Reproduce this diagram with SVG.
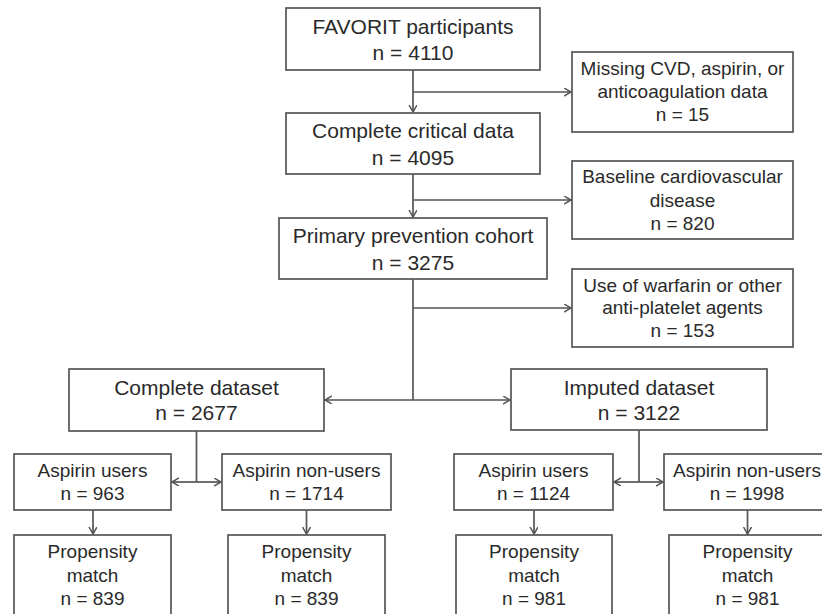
<svg xmlns="http://www.w3.org/2000/svg" width="822" height="614" viewBox="0 0 822 614">
<defs>
<style>
.box{fill:#fff;stroke:#555;stroke-width:1.7}
.t{font-family:"Liberation Sans",Arial,sans-serif;fill:#2a2a2a;text-anchor:middle}
.big{font-size:21px}
.sm{font-size:19px}
.c{fill:none;stroke:#555;stroke-width:1.7}
</style>
<marker id="ah" markerUnits="userSpaceOnUse" markerWidth="10" markerHeight="10" refX="7" refY="4" orient="auto">
<path d="M0,0 L7,4 L0,8" fill="none" stroke="#555" stroke-width="1.5"/>
</marker>
</defs>
<rect width="822" height="614" fill="#fff"/>
<g id="connectors">
<path class="c" d="M413,70 V112" marker-end="url(#ah)"/>
<path class="c" d="M413,92 H571" marker-end="url(#ah)"/>
<path class="c" d="M413,174 V217" marker-end="url(#ah)"/>
<path class="c" d="M413,200 H571" marker-end="url(#ah)"/>
<path class="c" d="M413,279 V400"/>
<path class="c" d="M413,308 H571" marker-end="url(#ah)"/>
<path class="c" d="M413,400 H325" marker-end="url(#ah)"/>
<path class="c" d="M413,400 H510" marker-end="url(#ah)"/>
<path class="c" d="M196.5,431 V482"/>
<path class="c" d="M196.5,482 H172" marker-end="url(#ah)"/>
<path class="c" d="M196.5,482 H221" marker-end="url(#ah)"/>
<path class="c" d="M639,430 V482"/>
<path class="c" d="M639,482 H614" marker-end="url(#ah)"/>
<path class="c" d="M639,482 H663" marker-end="url(#ah)"/>
<path class="c" d="M93,510 V534" marker-end="url(#ah)"/>
<path class="c" d="M306.5,510 V534" marker-end="url(#ah)"/>
<path class="c" d="M534,510 V534" marker-end="url(#ah)"/>
<path class="c" d="M747.5,510 V534" marker-end="url(#ah)"/>
</g>
<g id="favorit">
<rect class="box" x="286" y="8" width="254" height="62"/>
<text class="t big" x="413" y="34">FAVORIT participants</text>
<text class="t big" x="413" y="60">n = 4110</text>
</g>
<g id="missing">
<rect class="box" x="572" y="52" width="221" height="80"/>
<text class="t sm" x="682.5" y="75">Missing CVD, aspirin, or</text>
<text class="t sm" x="682.5" y="98">anticoagulation data</text>
<text class="t sm" x="682.5" y="121">n = 15</text>
</g>
<g id="complete-critical">
<rect class="box" x="286" y="113" width="254" height="61"/>
<text class="t big" x="413" y="138">Complete critical data</text>
<text class="t big" x="413" y="165">n = 4095</text>
</g>
<g id="baseline-cvd">
<rect class="box" x="572" y="161" width="221" height="78"/>
<text class="t sm" x="682.5" y="183">Baseline cardiovascular</text>
<text class="t sm" x="682.5" y="206.5">disease</text>
<text class="t sm" x="682.5" y="229.5">n = 820</text>
</g>
<g id="primary">
<rect class="box" x="279" y="218" width="268" height="61"/>
<text class="t big" x="413" y="243">Primary prevention cohort</text>
<text class="t big" x="413" y="270">n = 3275</text>
</g>
<g id="warfarin">
<rect class="box" x="572" y="269" width="221" height="78"/>
<text class="t sm" x="682.5" y="291.5">Use of warfarin or other</text>
<text class="t sm" x="682.5" y="313.5">anti-platelet agents</text>
<text class="t sm" x="682.5" y="336.5">n = 153</text>
</g>
<g id="complete-dataset">
<rect class="box" x="69" y="369" width="255" height="62"/>
<text class="t big" x="196.5" y="395">Complete dataset</text>
<text class="t big" x="196.5" y="420">n = 2677</text>
</g>
<g id="imputed-dataset">
<rect class="box" x="511" y="369" width="256" height="61"/>
<text class="t big" x="639" y="395">Imputed dataset</text>
<text class="t big" x="639" y="420">n = 3122</text>
</g>
<g id="users-complete">
<rect class="box" x="14" y="454" width="157" height="56"/>
<text class="t sm" x="92.5" y="477">Aspirin users</text>
<text class="t sm" x="92.5" y="500">n = 963</text>
</g>
<g id="nonusers-complete">
<rect class="box" x="222" y="454" width="169" height="56"/>
<text class="t sm" x="306.5" y="477">Aspirin non-users</text>
<text class="t sm" x="306.5" y="500">n = 1714</text>
</g>
<g id="users-imputed">
<rect class="box" x="454" y="454" width="159" height="56"/>
<text class="t sm" x="533.5" y="477">Aspirin users</text>
<text class="t sm" x="533.5" y="500">n = 1124</text>
</g>
<g id="nonusers-imputed">
<rect class="box" x="664" y="454" width="170" height="56"/>
<text class="t sm" x="747" y="477">Aspirin non-users</text>
<text class="t sm" x="747" y="500">n = 1998</text>
</g>
<g id="match-users-complete">
<rect class="box" x="14" y="535" width="157" height="82"/>
<text class="t sm" x="92.5" y="558">Propensity</text>
<text class="t sm" x="92.5" y="581.5">match</text>
<text class="t sm" x="92.5" y="605">n = 839</text>
</g>
<g id="match-nonusers-complete">
<rect class="box" x="228" y="535" width="157" height="82"/>
<text class="t sm" x="306.5" y="558">Propensity</text>
<text class="t sm" x="306.5" y="581.5">match</text>
<text class="t sm" x="306.5" y="605">n = 839</text>
</g>
<g id="match-users-imputed">
<rect class="box" x="456" y="535" width="156" height="82"/>
<text class="t sm" x="534" y="558">Propensity</text>
<text class="t sm" x="534" y="581.5">match</text>
<text class="t sm" x="534" y="605">n = 981</text>
</g>
<g id="match-nonusers-imputed">
<rect class="box" x="669" y="535" width="165" height="82"/>
<text class="t sm" x="747.5" y="558">Propensity</text>
<text class="t sm" x="747.5" y="581.5">match</text>
<text class="t sm" x="747.5" y="605">n = 981</text>
</g>
</svg>
